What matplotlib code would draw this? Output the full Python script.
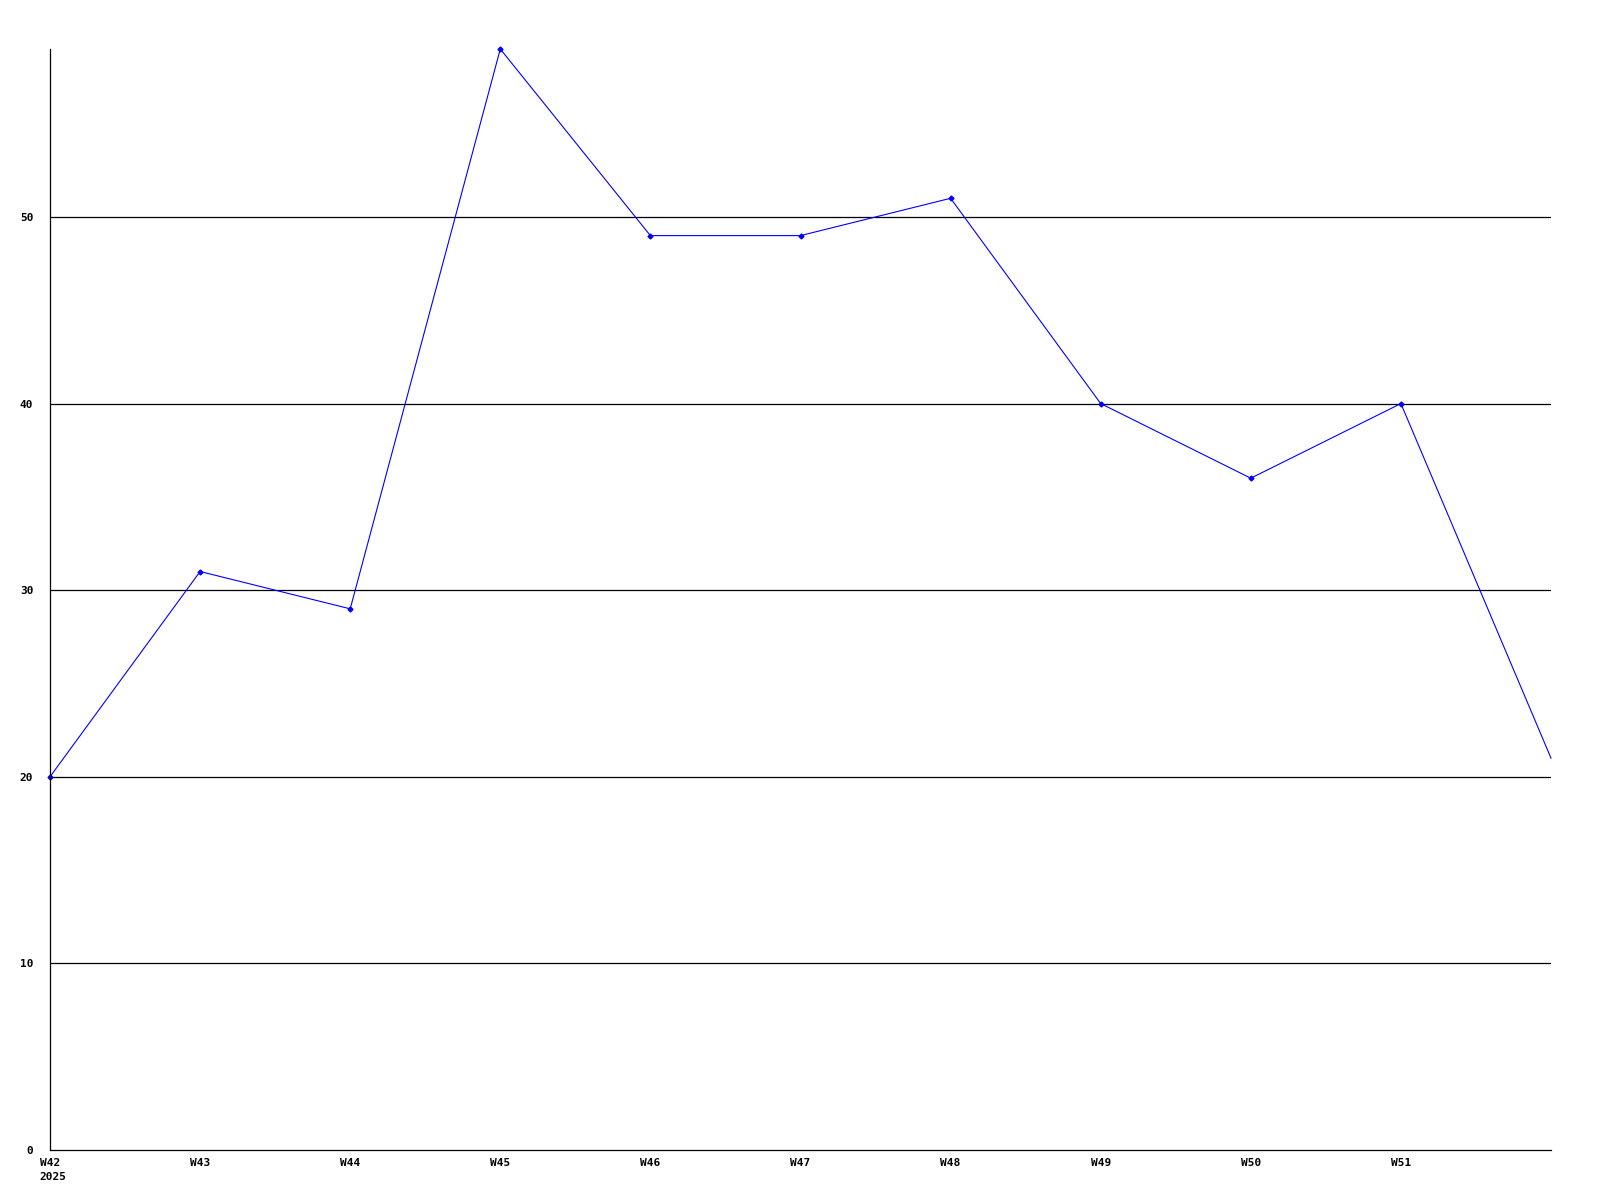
import matplotlib
matplotlib.use('Agg')
import matplotlib.pyplot as plt

weeks = ['W42', 'W43', 'W44', 'W45', 'W46', 'W47', 'W48', 'W49', 'W50', 'W51']
values = [20, 31, 29, 59, 49, 49, 51, 40, 36, 40, 21]
y_ticks = [0, 10, 20, 30, 40, 50]
year = '2025'

fig = plt.figure(figsize=(16, 12), dpi=100)
ax = fig.add_axes([50 / 1600, 1 - 1150 / 1200, 1501 / 1600, 1101 / 1200])

x = list(range(len(values)))
ax.plot(x, values, color='#0000ff', linewidth=0.8, clip_on=False)
# маркеры на всех точках кроме последней
ax.plot(x[:-1], values[:-1], linestyle='none', marker='D', markersize=2.5,
        color='#0000ff', clip_on=False)

for t in y_ticks[1:]:
    ax.axhline(t, color='black', linewidth=0.9, zorder=0)

ax.set_xlim(0, len(values) - 1)
ax.set_ylim(0, max(values))

for s in ['top', 'right']:
    ax.spines[s].set_visible(False)
for s in ['left', 'bottom']:
    ax.spines[s].set_linewidth(0.9)

font = dict(family='DejaVu Sans Mono', weight='bold', size=8)
ax.set_xticks(range(len(weeks)))
ax.set_xticklabels(weeks, **font)
ax.set_yticks(y_ticks)
ax.set_yticklabels([str(t) for t in y_ticks], **font)
ax.tick_params(length=0, pad=12, axis='y')
ax.tick_params(length=0, pad=6, axis='x')

ax.text(39 / 1600, 1 - 1177 / 1200, year, transform=fig.transFigure,
        ha='left', va='center', **font)

plt.savefig('out.png', dpi=100)
